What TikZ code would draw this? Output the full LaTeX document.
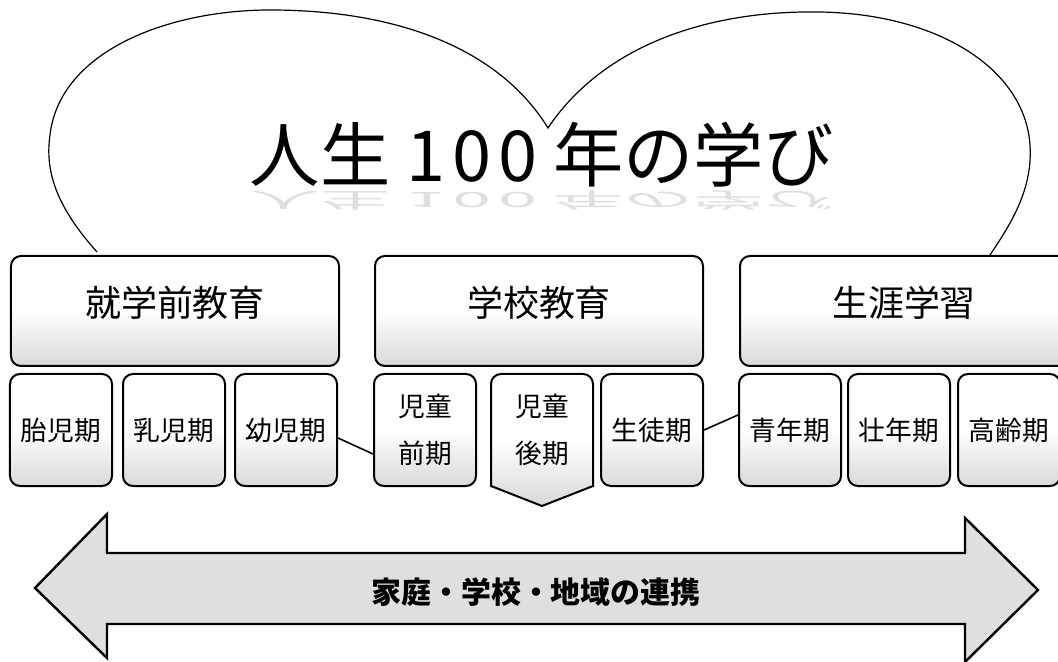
\documentclass[tikz,border=0pt]{standalone}
\usepackage{fontspec}
\setmainfont{Noto Sans CJK JP}
\usetikzlibrary{calc}

\begin{document}
\begin{tikzpicture}[x=0.25mm, y=-0.25mm,
  stagefill/.style={draw, line width=0.5mm, top color=white, bottom color=gray!30, middle color=white},
  bigbox/.style={stagefill, rounded corners=2.5mm, minimum width=82mm, minimum height=27.5mm,
    text height=8mm, text depth=5mm, font=\fontsize{25.6pt}{30pt}\selectfont},
  smalltext/.style={align=center, font=\fontsize{19pt}{33pt}\selectfont},
  smallbox/.style={stagefill, smalltext, rounded corners=2.5mm, minimum width=25.5mm, minimum height=28mm},
  link/.style={line width=0.4mm}]
  \useasboundingbox (0,0) rectangle (1058,662);

  % Heart outline behind everything
  \draw[line width=0.3mm] (97,252) .. controls (55,205) and (45,170) .. (50,135)
    .. controls (60,50) and (170,10) .. (270,10)
    .. controls (400,10) and (500,50) .. (548,128)
    .. controls (600,50) and (700,10) .. (820,12)
    .. controls (940,14) and (1025,70) .. (1030,145)
    .. controls (1033,190) and (1010,225) .. (990,255);

  % Title
  \node[font=\fontsize{50pt}{54pt}\selectfont] (title) at (542,155) {人生 1\kern.1em0\kern.1em0 年の学び};
  \node[text=gray!25, font=\fontsize{50pt}{54pt}\selectfont] (titlerefl) at (542,201)
    {\scalebox{1}[-0.3]{人生 1\kern.1em0\kern.1em0 年の学び}};

  % Top row: education stages
  \node[bigbox] (pre) at (175,311) {就学前教育};
  \node[bigbox] (school) at (539,311) {学校教育};
  \node[bigbox] (life) at (904,311) {生涯学習};

  % Bottom row: life periods
  \foreach \nm/\x/\txt in {taiji/61/胎児期, nyuji/174/乳児期, youji/286/幼児期,
      zenki/425/児童\\前期, seito/652/生徒期,
      seinen/790/青年期, sounen/899/壮年期, kourei/1009/高齢期}{
    \node[smallbox] (\nm) at (\x,430) {\txt};
  }
  \draw[stagefill] (542,506) -- (491,486) [rounded corners=2.5mm] -- (491,374)
    -- (593,374) [sharp corners] -- (593,486) -- cycle;
  \node[smalltext] (kouki) at (542,430) {児童\\後期};

  % Links between stages
  \draw[link] ($(youji.east)+(0,8)$) -- ($(zenki.west)+(0,24)$);
  \draw[link] (seito.east) -- ($(seinen.west)+(0,-15)$);

  % Double arrow
  \draw[line width=0.6mm, fill=gray!25] (35,588) -- (107,514) -- (107,553) -- (965,553)
    -- (965,518) -- (1038,590) -- (965,662) -- (965,624) -- (107,624) -- (107,658) -- cycle;
  \node[font=\bfseries\fontsize{21.3pt}{24pt}\selectfont] (renkei) at (536,592) {家庭・学校・地域の連携};
\end{tikzpicture}
\end{document}
